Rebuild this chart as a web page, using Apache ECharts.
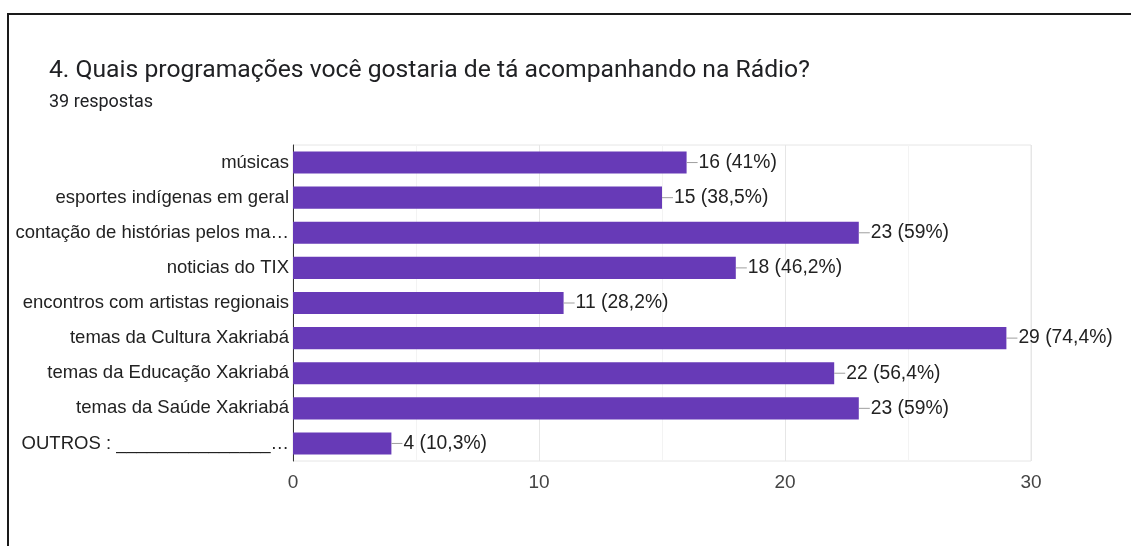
<!DOCTYPE html>
<html>
<head>
<meta charset="utf-8">
<script src="https://cdn.jsdelivr.net/npm/echarts@6/dist/echarts.min.js"></script>
<style>
html,body{margin:0;padding:0;background:#fff;}
#chart{width:1131px;height:546px;}
</style>
</head>
<body>
<div id="chart"></div>
<script>
const titleText = '4. Quais programações você gostaria de tá acompanhando na Rádio?';
const subtitleText = '39 respostas';
const totalResponses = 39;
const categories = [
  'músicas',
  'esportes indígenas em geral',
  'contação de histórias pelos ma…',
  'noticias do TIX',
  'encontros com artistas regionais',
  'temas da Cultura Xakriabá',
  'temas da Educação Xakriabá',
  'temas da Saúde Xakriabá',
  'OUTROS : _______________…'
];
const values = [16, 15, 23, 18, 11, 29, 22, 23, 4];
const xTicks = [0, 10, 20, 30];

function pct(v) {
  const p = Math.round(v / totalResponses * 1000) / 10;
  return (p % 1 === 0 ? p.toFixed(0) : p.toFixed(1)).replace('.', ',');
}

const chart = echarts.init(document.getElementById('chart'), null, {renderer: 'canvas'});
chart.setOption({
  animation: false,
  backgroundColor: '#fff',
  title: {
    text: titleText,
    subtext: subtitleText,
    left: 44,
    top: 53,
    itemGap: 10,
    textStyle: {fontFamily: 'Roboto', fontSize: 24.7, fontWeight: 'normal', color: '#202124'},
    subtextStyle: {fontFamily: 'Roboto', fontSize: 18, color: '#202124'}
  },
  graphic: [
    {type: 'line', shape: {x1: 8, y1: 14, x2: 1131, y2: 14}, style: {stroke: '#1a1a1a', lineWidth: 2}},
    {type: 'line', shape: {x1: 8, y1: 13, x2: 8, y2: 546}, style: {stroke: '#1a1a1a', lineWidth: 2}}
  ],
  grid: {
    left: 293, right: 100, top: 145, bottom: 85,
    show: true, borderColor: '#e6e6e6', borderWidth: 1
  },
  xAxis: {
    type: 'value', min: xTicks[0], max: xTicks[xTicks.length - 1], interval: 10,
    axisLine: {show: false}, axisTick: {show: false},
    axisLabel: {fontFamily: 'Liberation Sans', fontSize: 19, color: '#444', margin: 12},
    splitLine: {lineStyle: {color: '#e6e6e6'}},
    minorSplitLine: {show: true, lineStyle: {color: '#f3f3f3'}},
    splitNumber: 3,
    minorTick: {show: false, splitNumber: 2}
  },
  yAxis: {
    type: 'category', data: categories, inverse: true,
    axisLine: {show: true, lineStyle: {color: '#333', width: 1}},
    axisTick: {show: false},
    axisLabel: {fontFamily: 'Liberation Sans', fontSize: 18.5, color: '#222', margin: 4}
  },
  series: [{
    type: 'bar',
    data: values,
    barCategoryGap: '37%',
    itemStyle: {color: '#673ab7'},
    label: {
      show: true, position: 'right', distance: 0,
      formatter: p => '{l|}{t|' + p.value + ' (' + pct(p.value) + '%)}',
      rich: {
        l: {width: 11, height: 1, backgroundColor: '#9e9e9e'},
        t: {fontFamily: 'Liberation Sans', fontSize: 19.3, color: '#222', padding: [0, 0, 0, 1]}
      }
    }
  }]
});
</script>
</body>
</html>
